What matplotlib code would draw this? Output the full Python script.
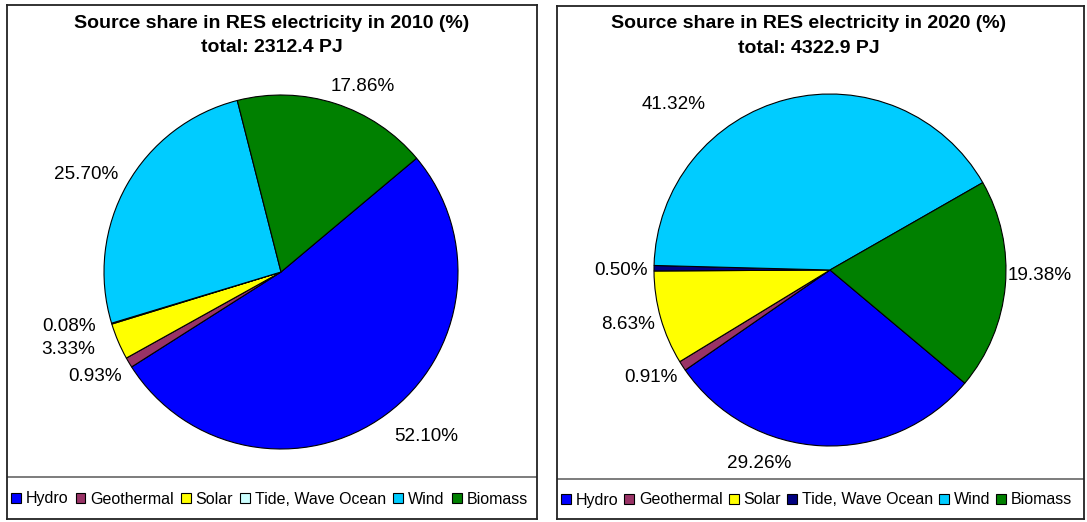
import matplotlib.pyplot as plt
from matplotlib.patches import Patch

plt.rcParams['font.family'] = ['Liberation Sans', 'DejaVu Sans']

sources = ["Hydro", "Geothermal", "Solar", "Tide, Wave Ocean", "Wind", "Biomass"]
share_2010 = [52.10, 0.93, 3.33, 0.08, 25.70, 17.86]
share_2020 = [29.26, 0.91, 8.63, 0.50, 41.32, 19.38]
total_2010 = "2312.4"
total_2020 = "4322.9"

colors_2010 = ["#0000FF", "#993366", "#FFFF00", "#CCFFFF", "#00CCFF", "#008000"]
colors_2020 = ["#0000FF", "#993366", "#FFFF00", "#000080", "#00CCFF", "#008000"]

W, H = 1087, 522
fig = plt.figure(figsize=(W / 100, H / 100), dpi=100)


def px_rect(x0, y0, x1, y1):
    # pixel box (top-left origin) -> figure fraction rect
    return [x0 / W, 1 - y1 / H, (x1 - x0) / W, (y1 - y0) / H]


def panel(box, sep_y, title_x, center, r, start, values, colors, year, total, label_pos, colspace):
    x0, y0, x1, y1 = box
    frame = fig.add_axes(px_rect(x0, y0, x1, y1))
    frame.set_xlim(x0, x1)
    frame.set_ylim(y1, y0)
    frame.set_xticks([])
    frame.set_yticks([])
    for s in frame.spines.values():
        s.set_linewidth(1.3)
        s.set_color("#222222")
    frame.axhline(sep_y, color="#666666", lw=1.2)
    frame.text(title_x, 23, "Source share in RES electricity in %s (%%)" % year,
               ha="center", va="center", fontsize=14, fontweight="bold")
    frame.text(title_x, 48, "total: %s PJ" % total,
               ha="center", va="center", fontsize=14, fontweight="bold")

    L = 1.45
    cx, cy = center
    ax = fig.add_axes(px_rect(cx - L * r, cy - L * r, cx + L * r, cy + L * r))
    ax.pie(values, colors=colors, startangle=start, counterclock=False,
           wedgeprops=dict(edgecolor="black", linewidth=0.8))
    ax.set_xlim(-L, L)
    ax.set_ylim(-L, L)
    ax.set_aspect("equal")
    ax.axis("off")
    for v, (lx, ly) in zip(values, label_pos):
        ax.text(lx, ly, "%.2f%%" % v, ha="center", va="center", fontsize=13.6)

    handles = [Patch(facecolor=c, edgecolor="black", linewidth=0.8) for c in colors]
    fig.legend(handles, sources, loc="center left",
               bbox_to_anchor=((x0 + 4) / W, 1 - ((sep_y + y1) / 2 + 1) / H),
               ncol=6, frameon=False, fontsize=11.5, borderpad=0, borderaxespad=0,
               handlelength=0.62, handleheight=0.62, handletextpad=0.3,
               columnspacing=colspace)


panel((7, 5, 537, 519), 477, 272, (281, 272), 177, 40, share_2010, colors_2010, "2010", total_2010,
      [(0.82, -0.93), (-1.05, -0.59), (-1.20, -0.44), (-1.20, -0.31), (-1.10, 0.55), (0.46, 1.05)], 0.45)
panel((557, 6, 1084, 519), 479, 809, (830, 270), 176, -40, share_2020, colors_2020, "2020", total_2020,
      [(-0.40, -1.10), (-1.02, -0.61), (-1.15, -0.31), (-1.19, 0.0), (-0.89, 0.94), (1.19, -0.03)], 0.38)

fig.savefig("out.png", dpi=100)
